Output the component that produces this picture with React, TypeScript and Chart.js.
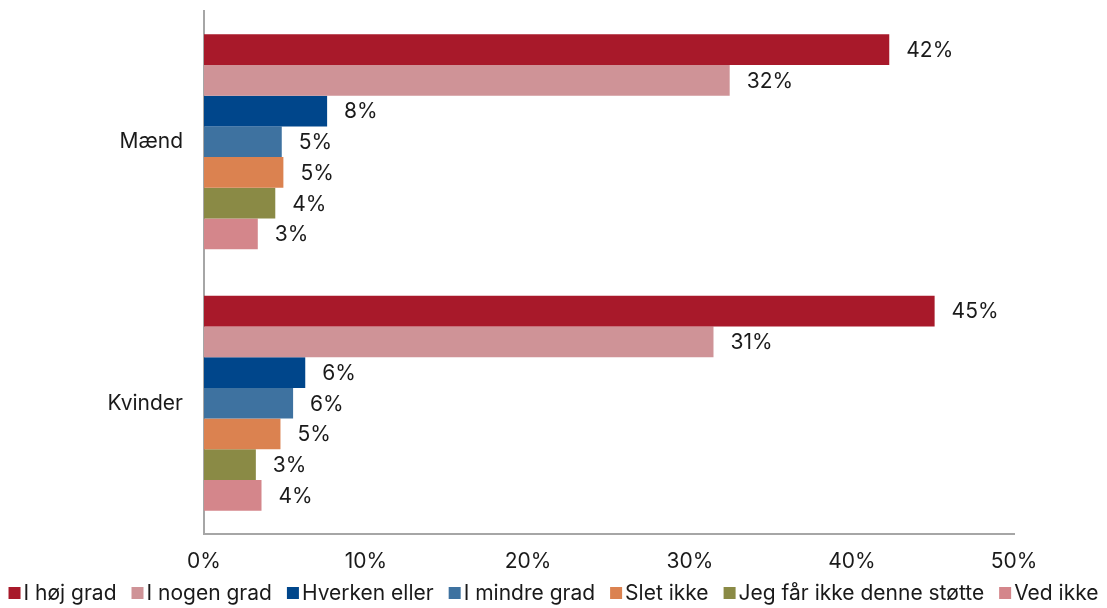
import React, { useEffect, useRef } from "react";
import { Chart, registerables } from "chart.js";

Chart.register(...registerables);

const categories = ["Mænd", "Kvinder"];
const seriesNames = [
  "I høj grad",
  "I nogen grad",
  "Hverken eller",
  "I mindre grad",
  "Slet ikke",
  "Jeg får ikke denne støtte",
  "Ved ikke",
];
const seriesColors = ["#A8192A", "#CF9397", "#00468B", "#3E72A0", "#DB8250", "#8A8A45", "#D4868B"];
const hoejGrad = [42.3, 45.1];
const nogenGrad = [32.45, 31.45];
const hverkenEller = [7.6, 6.25];
const mindreGrad = [4.8, 5.5];
const sletIkke = [4.9, 4.72];
const jegFaarIkke = [4.4, 3.2];
const vedIkke = [3.32, 3.55];
const seriesValues = [hoejGrad, nogenGrad, hverkenEller, mindreGrad, sletIkke, jegFaarIkke, vedIkke];
const xTicks = [0, 10, 20, 30, 40, 50];

const TEXT_FONT = "Inter, 'Noto Sans', sans-serif";
const TEXT_SIZE = 21;

const valueLabels = {
  id: "valueLabels",
  afterDatasetsDraw(chart: any) {
    const ctx = chart.ctx;
    ctx.save();
    ctx.font = `${TEXT_SIZE}px ${TEXT_FONT}`;
    ctx.fillStyle = "#1a1a1a";
    ctx.textAlign = "left";
    ctx.textBaseline = "middle";
    chart.data.datasets.forEach((ds: any, di: number) => {
      const meta = chart.getDatasetMeta(di);
      meta.data.forEach((el: any, i: number) => {
        const v = ds.data[i];
        ctx.fillText(Math.round(v) + "%", el.x + 17, el.y + 1);
      });
    });
    ctx.restore();
  },
};

const customLegend = {
  id: "customLegend",
  afterDraw(chart: any) {
    const ctx = chart.ctx;
    ctx.save();
    ctx.font = `${TEXT_SIZE}px ${TEXT_FONT}`;
    ctx.textBaseline = "middle";
    ctx.textAlign = "left";
    const box = 12;
    const gapBoxText = 3;
    const gapItem = 15;
    const items = chart.data.datasets.map((ds: any) => ({
      label: ds.label,
      color: ds.backgroundColor,
      w: ctx.measureText(ds.label).width,
    }));
    const total =
      items.reduce((s: number, it: any) => s + box + gapBoxText + it.w, 0) + gapItem * (items.length - 1);
    let x = (chart.width - total) / 2;
    const y = 593;
    items.forEach((it: any) => {
      ctx.fillStyle = it.color;
      ctx.fillRect(x, y - box / 2, box, box);
      x += box + gapBoxText;
      ctx.fillStyle = "#1a1a1a";
      ctx.fillText(it.label, x, y + 1);
      x += it.w + gapItem;
    });
    ctx.restore();
  },
};

export default function App() {
  const canvasRef = useRef<HTMLCanvasElement | null>(null);

  useEffect(() => {
    let chart: any = null;
    let cancelled = false;
    const build = () => {
      if (cancelled || !canvasRef.current) return;
      chart = new Chart(canvasRef.current, {
        type: "bar",
        data: {
          labels: categories,
          datasets: seriesNames.map((name, i) => ({
            label: name,
            data: seriesValues[i],
            backgroundColor: seriesColors[i],
            borderWidth: 0,
            categoryPercentage: 0.823,
            barPercentage: 1,
          })),
        },
        options: {
          indexAxis: "y",
          animation: false,
          responsive: true,
          maintainAspectRatio: false,
          layout: { padding: { left: 0, right: 93, top: 11, bottom: 36 } },
          plugins: {
            legend: { display: false },
            tooltip: { enabled: false },
          },
          scales: {
            x: {
              min: 0,
              max: 50,
              afterFit: (s: any) => {
                s.height = 38;
                s.paddingLeft = 0;
                s.paddingRight = 0;
              },
              afterBuildTicks: (s: any) => {
                s.ticks = xTicks.map((v) => ({ value: v }));
              },
              grid: { display: false, drawTicks: false },
              border: { display: true, color: "#A6A6A6", width: 2 },
              ticks: {
                padding: 15,
                color: "#1a1a1a",
                font: { family: TEXT_FONT, size: TEXT_SIZE },
                callback: (v: any) => v + "%",
              },
            },
            y: {
              afterFit: (s: any) => {
                s.width = 204;
                s.paddingTop = 0;
                s.paddingBottom = 0;
              },
              grid: { display: false, drawTicks: false },
              border: { display: true, color: "#A6A6A6", width: 2 },
              ticks: {
                padding: 21,
                color: "#1a1a1a",
                font: { family: TEXT_FONT, size: TEXT_SIZE },
              },
            },
          },
        },
        plugins: [valueLabels, customLegend],
      });
    };
    const fonts: any = (document as any).fonts;
    if (fonts && fonts.load) {
      fonts
        .load(`${TEXT_SIZE}px Inter`)
        .catch(() => null)
        .then(() => build());
    } else {
      build();
    }
    return () => {
      cancelled = true;
      if (chart) chart.destroy();
    };
  }, []);

  return (
    <div style={{ position: "absolute", left: 0, top: 0, width: 1107, height: 608, background: "#fff" }}>
      <canvas ref={canvasRef} />
    </div>
  );
}
